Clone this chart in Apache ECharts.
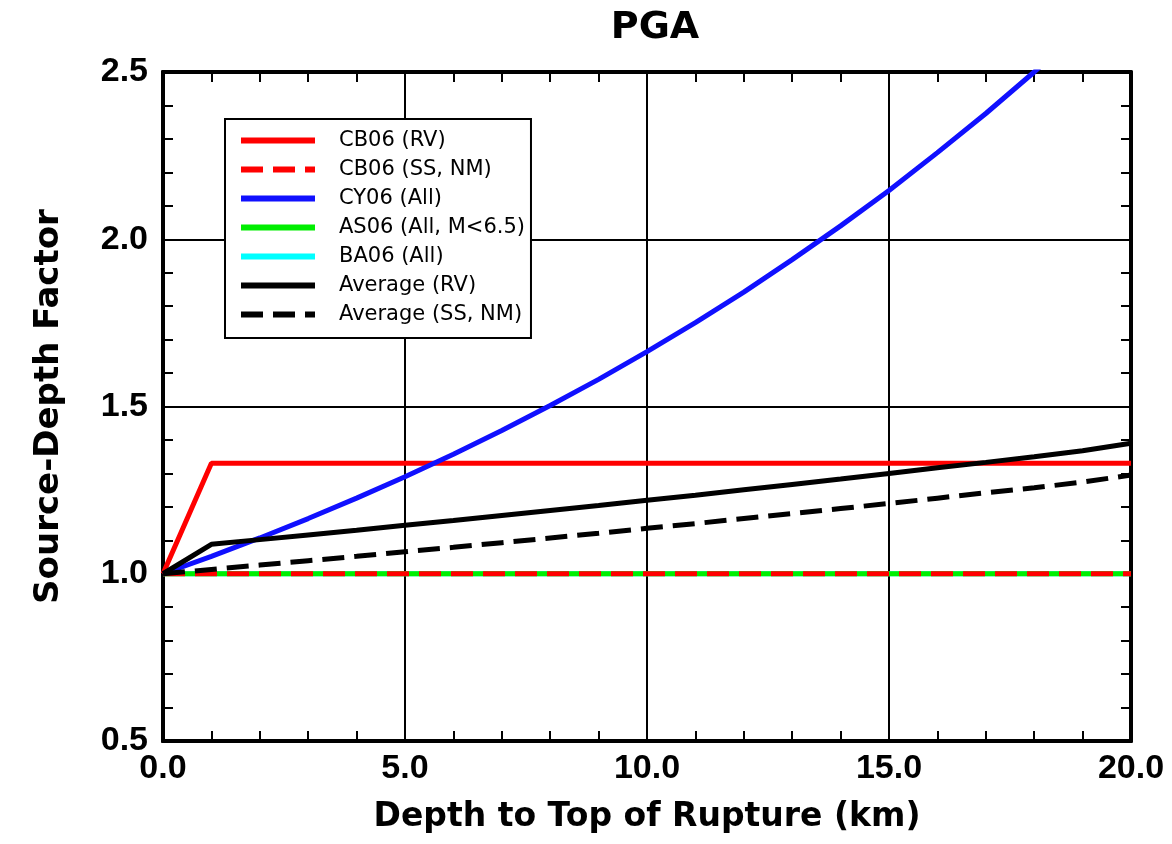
<!DOCTYPE html>
<html>
<head>
<meta charset="utf-8">
<script src="https://cdn.jsdelivr.net/npm/echarts@6/dist/echarts.min.js"></script>
<style>html,body{margin:0;padding:0;background:#fff;}#c{width:1172px;height:844px;}</style>
</head>
<body>
<div id="c"></div>
<script>
var depth = [0,1,2,3,4,5,6,7,8,9,10,11,12,13,14,15,16,17,18,19,20];
var cb06RV = [1.0,1.33,1.33,1.33,1.33,1.33,1.33,1.33,1.33,1.33,1.33,1.33,1.33,1.33,1.33,1.33,1.33,1.33,1.33,1.33,1.33];
var cb06SS = [1,1,1,1,1,1,1,1,1,1,1,1,1,1,1,1,1,1,1,1,1];
var cy06 = [1.0,1.052,1.107,1.165,1.226,1.29,1.357,1.428,1.503,1.581,1.664,1.751,1.842,1.939,2.04,2.146,2.259,2.376,2.5,2.63,2.77];
var as06 = [1,1,1,1,1,1,1,1,1,1,1,1,1,1,1,1,1,1,1,1,1];
var ba06 = [1,1,1,1,1,1,1,1,1,1,1,1,1,1,1,1,1,1,1,1,1];
var avgRV = [1.0,1.088,1.102,1.116,1.13,1.145,1.159,1.174,1.189,1.204,1.22,1.235,1.251,1.267,1.283,1.3,1.317,1.333,1.35,1.368,1.39];
var avgSS = [1.0,1.013,1.026,1.039,1.052,1.066,1.079,1.093,1.107,1.121,1.136,1.15,1.165,1.18,1.195,1.21,1.226,1.242,1.257,1.274,1.295];
var xTicks = ['0.0','5.0','10.0','15.0','20.0'];
var yTicks = ['0.5','1.0','1.5','2.0','2.5'];

function pairs(ys){ return depth.map(function(x,i){ return [x, ys[i]]; }); }
var FF = 'Arial, "Liberation Sans", sans-serif';
var FW = '"DejaVu Sans", Arial, sans-serif';
function ser(name, data, color, dashed){
  return {
    name: name, type: 'line', data: pairs(data), symbol: 'none', showSymbol: false, clip: true,
    lineStyle: {color: color, width: 5, type: dashed ? [22,10] : 'solid'},
    itemStyle: {color: color}, animation: false
  };
}
var chart = echarts.init(document.getElementById('c'));
var axisLineStyle = {show: true, onZero: false, lineStyle: {color: '#000', width: 4}};
var innerTick = {show: true, inside: true, length: 10, lineStyle: {color: '#000', width: 2}};
function tickX(pos){
  return {type: 'value', min: 0, max: 20, interval: 1, position: pos,
    axisLine: axisLineStyle, axisTick: innerTick, axisLabel: {show: false}, splitLine: {show: false}};
}
function tickY(pos){
  return {type: 'value', min: 0.5, max: 2.5, interval: 0.1, position: pos,
    axisLine: axisLineStyle, axisTick: innerTick, axisLabel: {show: false}, splitLine: {show: false}};
}
chart.setOption({
  animation: false,
  backgroundColor: '#fff',
  title: {text: 'PGA', left: 650, textAlign: 'center', top: 4,
    textStyle: {fontFamily: FW, fontWeight: 'bold', fontSize: 38, color: '#000'}},
  grid: {left: 163, right: 41, top: 72, bottom: 103},
  legend: {
    orient: 'vertical', left: 225, top: 119,
    backgroundColor: '#fff', borderColor: '#000', borderWidth: 2, borderRadius: 0,
    padding: [11, 6, 13, 13],
    itemWidth: 74, itemHeight: 10, itemGap: 8,
    itemStyle: {opacity: 0},
    lineStyle: {width: 6},
    textStyle: {fontFamily: FW, fontSize: 21, color: '#000', lineHeight: 20, padding: [0,0,0,19]},
    data: ['CB06 (RV)','CB06 (SS, NM)','CY06 (All)','AS06 (All, M<6.5)','BA06 (All)','Average (RV)','Average (SS, NM)']
  },
  xAxis: [{
    type: 'value', min: 0, max: 20, interval: 5, position: 'bottom',
    name: 'Depth to Top of Rupture (km)', nameLocation: 'middle', nameGap: 60,
    nameTextStyle: {fontFamily: FW, fontWeight: 'bold', fontSize: 33, color: '#000'},
    axisLine: axisLineStyle,
    axisTick: {show: false},
    axisLabel: {margin: 11, fontFamily: FF, fontWeight: 'bold', fontSize: 34, color: '#000',
      formatter: function(v){ return xTicks[Math.round(v/5)]; }},
    splitLine: {show: true, lineStyle: {color: '#000', width: 2}}
  }, tickX('top'), tickX('bottom')],
  yAxis: [{
    type: 'value', min: 0.5, max: 2.5, interval: 0.5, position: 'left',
    name: 'Source-Depth Factor', nameLocation: 'middle', nameGap: 97,
    nameTextStyle: {fontFamily: FW, fontWeight: 'bold', fontSize: 34, color: '#000'},
    axisLine: axisLineStyle,
    axisTick: {show: false},
    axisLabel: {margin: 15, fontFamily: FF, fontWeight: 'bold', fontSize: 34, color: '#000',
      formatter: function(v){ return yTicks[Math.round((v-0.5)/0.5)]; }},
    splitLine: {show: true, lineStyle: {color: '#000', width: 2}}
  }, tickY('right'), tickY('left')],
  series: [
    ser('BA06 (All)', ba06, '#00ffff', false),
    ser('AS06 (All, M<6.5)', as06, '#00ee00', false),
    ser('CB06 (SS, NM)', cb06SS, '#ff0000', true),
    ser('CB06 (RV)', cb06RV, '#ff0000', false),
    ser('CY06 (All)', cy06, '#1010ff', false),
    ser('Average (RV)', avgRV, '#000000', false),
    ser('Average (SS, NM)', avgSS, '#000000', true)
  ]
});
</script>
</body>
</html>
